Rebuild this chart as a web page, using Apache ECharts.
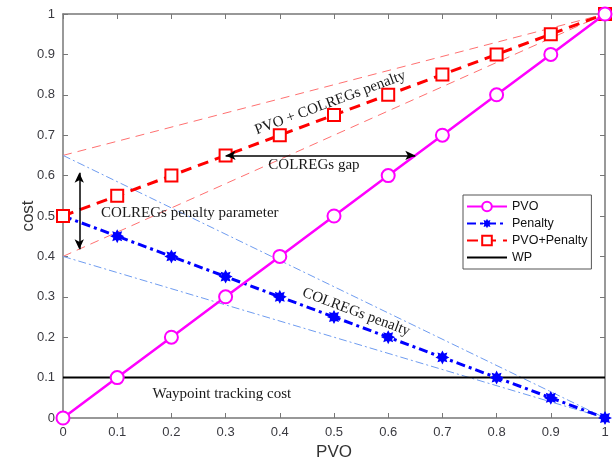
<!DOCTYPE html>
<html lang="en">
<head>
    <meta charset="UTF-8">
    <title>PVO cost</title>
    <script src="https://cdn.jsdelivr.net/npm/echarts@6/dist/echarts.min.js"></script>
</head>
<style>
    body { margin:0; padding:0; background:#fff; }
    #main { width:616px; height:459px; }
</style>
<body>
<div id="main"></div>
<script>
    // data
    var pvoX = [0, 0.1, 0.2, 0.3, 0.4, 0.5, 0.6, 0.7, 0.8, 0.9, 1];
    var pvo = [0, 0.1, 0.2, 0.3, 0.4, 0.5, 0.6, 0.7, 0.8, 0.9, 1];
    var penalty = [0.5, 0.45, 0.4, 0.35, 0.3, 0.25, 0.2, 0.15, 0.1, 0.05, 0];
    var pvoPenalty = [0.5, 0.55, 0.6, 0.65, 0.7, 0.75, 0.8, 0.85, 0.9, 0.95, 1];
    var wp = [0.1, 0.1, 0.1, 0.1, 0.1, 0.1, 0.1, 0.1, 0.1, 0.1, 0.1];

    // thin guide lines
    var redUpper = [[0, 0.65], [1, 1]];
    var redLower = [[0, 0.4], [1, 1]];
    var blueUpper = [[0, 0.65], [1, 0]];
    var blueLower = [[0, 0.4], [1, 0]];

    // arrows
    var gapArrow = [[0.3, 0.65], [0.65, 0.65]];
    var paramArrow = [[0.03, 0.418], [0.03, 0.607]];

    // text notes: [text, x, y, angle]
    var notes = [
        ['PVO + COLREGs penalty', 0.493, 0.78, 20.4],
        ['COLREGs gap', 0.463, 0.626, 0],
        ['COLREGs penalty parameter', 0.234, 0.507, 0],
        ['COLREGs penalty', 0.541, 0.262, -20.4],
        ['Waypoint tracking cost', 0.293, 0.059, 0]
    ];

    function pairs(ys) {
        return pvoX.map(function (x, i) { return [x, ys[i]]; });
    }

    // 8 point star for the matlab '*' marker
    function starPath() {
        var p = [];
        for (var i = 0; i < 16; i++) {
            var r = i % 2 === 0 ? 10 : 6;
            var a = Math.PI / 8 * i;
            p.push((10 + r * Math.sin(a)).toFixed(2) + ' ' + (10 - r * Math.cos(a)).toFixed(2));
        }
        return 'path://M' + p.join(' L') + ' Z';
    }

    var myChart = echarts.init(document.getElementById('main'));

    var axisBase = {
        type: 'value', min: 0, max: 1, interval: 0.1,
        axisLine: { show: true, onZero: false, lineStyle: { color: '#777', width: 1.5 } },
        axisTick: { show: true, inside: true, length: 5, lineStyle: { color: '#777' } },
        splitLine: { show: false }
    };
    var labelStyle = { color: '#3a3a40', fontSize: 13, fontFamily: 'Liberation Sans', margin: 8 };

    function guide(data, color, type) {
        return {
            type: 'line', data: data, symbol: 'none', silent: true, z: 1,
            lineStyle: { color: color, width: 1, type: type }
        };
    }

    var option = {
        animation: false,
        grid: { left: 63, right: 11, top: 14, bottom: 41, containLabel: false, outerBoundsMode: 'none' },
        legend: {
            data: ['PVO', 'Penalty', 'PVO+Penalty', { name: 'WP', itemStyle: { opacity: 0 } }],
            orient: 'vertical', left: 463, top: 195,
            itemWidth: 40, itemHeight: 12, itemGap: 4,
            padding: [5, 4, 5, 3],
            backgroundColor: '#fff', borderColor: '#555', borderWidth: 1,
            textStyle: { color: '#111', fontSize: 12.5, fontFamily: 'Liberation Sans' }
        },
        xAxis: [
            Object.assign({}, axisBase, {
                position: 'bottom', name: 'PVO', nameLocation: 'middle', nameGap: 26,
                nameMoveOverlap: false,
                nameTextStyle: { color: '#333', fontSize: 17, fontFamily: 'Liberation Sans' },
                axisLabel: labelStyle
            }),
            Object.assign({}, axisBase, { position: 'top', axisLabel: { show: false } })
        ],
        yAxis: [
            Object.assign({}, axisBase, {
                position: 'left', name: 'cost', nameLocation: 'middle', nameGap: 26,
                nameMoveOverlap: false,
                nameTextStyle: { color: '#333', fontSize: 17, fontFamily: 'Liberation Sans' },
                axisLabel: labelStyle
            }),
            Object.assign({}, axisBase, { position: 'right', axisLabel: { show: false } })
        ],
        series: [
            guide(redUpper, '#ff7070', [9, 6]),
            guide(redLower, '#ff7070', [9, 6]),
            guide(blueUpper, '#6f9cf0', [8, 3, 2, 3]),
            guide(blueLower, '#6f9cf0', [8, 3, 2, 3]),
            {
                name: 'WP', type: 'line', data: pairs(wp), symbol: 'none', z: 2,
                itemStyle: { color: '#000' },
                lineStyle: { color: '#000', width: 2 }
            },
            {
                name: 'Penalty', type: 'line', data: pairs(penalty), z: 3,
                symbol: starPath(), symbolSize: 14,
                itemStyle: { color: '#0000ff' },
                lineStyle: { color: '#0000ff', width: 3, type: [9, 4, 3, 4] }
            },
            {
                name: 'PVO+Penalty', type: 'line', data: pairs(pvoPenalty), z: 3,
                symbol: 'emptyRect', symbolSize: 12,
                itemStyle: { color: '#ff0000', borderWidth: 2.5 },
                lineStyle: { color: '#ff0000', width: 3, type: [11, 7] }
            },
            {
                name: 'PVO', type: 'line', data: pairs(pvo), z: 4,
                symbol: 'emptyCircle', symbolSize: 13,
                itemStyle: { color: '#ff00ff', borderWidth: 2.5 },
                lineStyle: { color: '#ff00ff', width: 2.5 }
            },
            {
                type: 'line', data: [], z: 5, silent: true,
                markLine: {
                    silent: true, symbol: ['arrow', 'arrow'], symbolSize: [7, 10],
                    label: { show: false },
                    lineStyle: { color: '#000', width: 1.5, type: 'solid' },
                    data: [
                        [{ coord: gapArrow[0] }, { coord: gapArrow[1] }],
                        [{ coord: paramArrow[0] }, { coord: paramArrow[1] }]
                    ]
                }
            }
        ]
    };
    myChart.setOption(option);

    // place the notes in data coordinates
    var texts = notes.map(function (n) {
        var p = myChart.convertToPixel({ gridIndex: 0 }, [n[1], n[2]]);
        return {
            type: 'text', x: p[0], y: p[1], rotation: n[3] * Math.PI / 180, z: 10,
            style: {
                text: n[0], fill: '#1a1a1a', font: '15px "Liberation Serif"',
                align: 'center', verticalAlign: 'middle'
            }
        };
    });
    myChart.setOption({ graphic: texts });
</script>
</body>
</html>
